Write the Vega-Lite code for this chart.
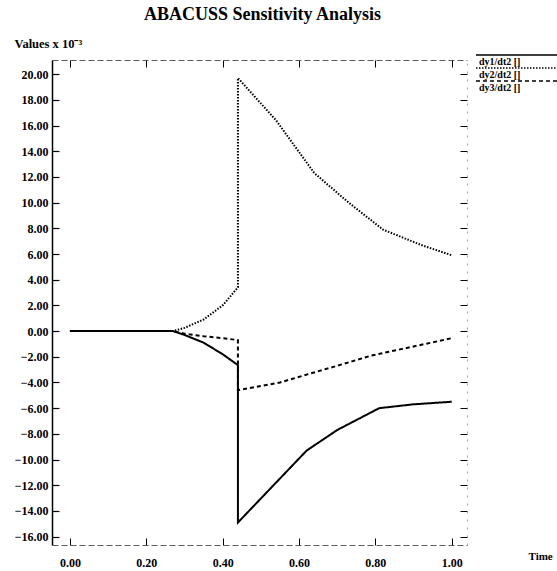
{
  "$schema": "https://vega.github.io/schema/vega-lite/v6.json",
  "width": 415,
  "height": 485,
  "autosize": {"type": "none"},
  "padding": {"left": 52, "top": 60, "right": 90, "bottom": 26},
  "background": "white",
  "title": {"text": "ABACUSS Sensitivity Analysis", "font": "Liberation Serif", "fontSize": 18, "fontWeight": "bold", "color": "black", "anchor": "middle", "frame": "group", "offset": 13, "dx": 3},
  "config": {"view": {"stroke": null}, "font": "Liberation Serif"},
  "data": {"values": [
    {"s": "dy1/dt2 []", "i": 1, "t": 0.0, "v": 0},
    {"s": "dy1/dt2 []", "i": 2, "t": 0.27, "v": 0},
    {"s": "dy1/dt2 []", "i": 3, "t": 0.3, "v": -0.3},
    {"s": "dy1/dt2 []", "i": 4, "t": 0.35, "v": -0.9},
    {"s": "dy1/dt2 []", "i": 5, "t": 0.4, "v": -1.8},
    {"s": "dy1/dt2 []", "i": 6, "t": 0.44, "v": -2.65},
    {"s": "dy1/dt2 []", "i": 7, "t": 0.44, "v": -14.9},
    {"s": "dy1/dt2 []", "i": 8, "t": 0.53, "v": -12.1},
    {"s": "dy1/dt2 []", "i": 9, "t": 0.62, "v": -9.3},
    {"s": "dy1/dt2 []", "i": 10, "t": 0.7, "v": -7.7},
    {"s": "dy1/dt2 []", "i": 11, "t": 0.81, "v": -6.0},
    {"s": "dy1/dt2 []", "i": 12, "t": 0.9, "v": -5.7},
    {"s": "dy1/dt2 []", "i": 13, "t": 1.0, "v": -5.5},
    {"s": "dy2/dt2 []", "i": 1, "t": 0.0, "v": 0},
    {"s": "dy2/dt2 []", "i": 2, "t": 0.27, "v": 0},
    {"s": "dy2/dt2 []", "i": 3, "t": 0.3, "v": 0.25},
    {"s": "dy2/dt2 []", "i": 4, "t": 0.35, "v": 0.9},
    {"s": "dy2/dt2 []", "i": 5, "t": 0.4, "v": 2.0},
    {"s": "dy2/dt2 []", "i": 6, "t": 0.44, "v": 3.4},
    {"s": "dy2/dt2 []", "i": 7, "t": 0.44, "v": 19.7},
    {"s": "dy2/dt2 []", "i": 8, "t": 0.54, "v": 16.4},
    {"s": "dy2/dt2 []", "i": 9, "t": 0.64, "v": 12.3},
    {"s": "dy2/dt2 []", "i": 10, "t": 0.73, "v": 10.0},
    {"s": "dy2/dt2 []", "i": 11, "t": 0.82, "v": 7.9},
    {"s": "dy2/dt2 []", "i": 12, "t": 0.92, "v": 6.7},
    {"s": "dy2/dt2 []", "i": 13, "t": 1.0, "v": 5.9},
    {"s": "dy3/dt2 []", "i": 1, "t": 0.0, "v": 0},
    {"s": "dy3/dt2 []", "i": 2, "t": 0.27, "v": 0},
    {"s": "dy3/dt2 []", "i": 3, "t": 0.3, "v": -0.2},
    {"s": "dy3/dt2 []", "i": 4, "t": 0.35, "v": -0.4},
    {"s": "dy3/dt2 []", "i": 5, "t": 0.4, "v": -0.55},
    {"s": "dy3/dt2 []", "i": 6, "t": 0.44, "v": -0.7},
    {"s": "dy3/dt2 []", "i": 7, "t": 0.44, "v": -4.6},
    {"s": "dy3/dt2 []", "i": 8, "t": 0.55, "v": -4.0},
    {"s": "dy3/dt2 []", "i": 9, "t": 0.63, "v": -3.3},
    {"s": "dy3/dt2 []", "i": 10, "t": 0.7, "v": -2.7},
    {"s": "dy3/dt2 []", "i": 11, "t": 0.79, "v": -1.9},
    {"s": "dy3/dt2 []", "i": 12, "t": 0.9, "v": -1.2},
    {"s": "dy3/dt2 []", "i": 13, "t": 1.0, "v": -0.55}
  ]},
  "layer": [
    {
      "mark": {"type": "line", "color": "black", "strokeWidth": 2},
      "encoding": {
        "x": {"field": "t", "type": "quantitative",
          "scale": {"domain": [-0.047, 1.04], "nice": false, "zero": false},
          "axis": {"orient": "bottom", "values": [0, 0.2, 0.4, 0.6, 0.8, 1.0], "format": ".2f",
            "labelFont": "Liberation Serif", "labelFontWeight": "bold", "labelFontSize": 12, "labelColor": "black",
            "tickSize": -7, "tickColor": "black", "tickWidth": 1, "labelPadding": 19,
            "domainColor": "#333", "domainDash": [6, 3], "domainWidth": 0.8, "grid": false,
            "title": "Time", "titleX": 476, "titleY": 11, "titleAlign": "left", "titleBaseline": "middle", "titleAnchor": null,
            "titleFont": "Liberation Serif", "titleFontSize": 11, "titleFontWeight": "bold", "titleColor": "black"}},
        "y": {"field": "v", "type": "quantitative",
          "scale": {"domain": [-16.65, 21.1], "nice": false, "zero": false},
          "axis": {"orient": "left", "values": [-16, -14, -12, -10, -8, -6, -4, -2, 0, 2, 4, 6, 8, 10, 12, 14, 16, 18, 20], "format": ".2f",
            "labelFont": "Liberation Serif", "labelFontWeight": "bold", "labelFontSize": 12, "labelColor": "black",
            "tickSize": -7, "tickColor": "black", "tickWidth": 1.2, "labelPadding": 11,
            "domainColor": "black", "domainWidth": 1.5, "grid": false,
            "title": "Values x 10⁻³", "titleAngle": 0, "titleX": -38, "titleY": -17, "titleAlign": "left", "titleBaseline": "middle",
            "titleFont": "Liberation Serif", "titleFontSize": 12.5, "titleFontWeight": "bold", "titleColor": "black"}},
        "strokeDash": {"field": "s", "type": "nominal",
          "scale": {"domain": ["dy1/dt2 []", "dy2/dt2 []", "dy3/dt2 []"], "range": [[1, 0], [1.5, 1.5], [4, 3]]},
          "legend": {"orient": "none", "legendX": 416, "legendY": -3, "title": null,
            "symbolType": "M3,-7L86,-7", "symbolSize": 4, "symbolStrokeWidth": 1.5, "symbolStrokeColor": "black", "symbolFillColor": "transparent",
            "labelFont": "Liberation Serif", "labelFontWeight": "bold", "labelFontSize": 10, "labelColor": "black",
            "rowPadding": -2, "labelOffset": 1, "padding": 0}},
        "order": {"field": "i", "type": "quantitative"}
      }
    },
    {
      "mark": {"type": "line", "opacity": 0},
      "encoding": {
        "x": {"field": "t", "type": "quantitative",
          "axis": {"orient": "top", "values": [0, 0.2, 0.4, 0.6, 0.8, 1.0], "labels": false, "title": null,
            "tickSize": -7, "tickColor": "black", "domainColor": "#333", "domainDash": [6, 3], "domainWidth": 0.8, "grid": false}},
        "y": {"field": "v", "type": "quantitative",
          "axis": {"orient": "right", "values": [-16, -14, -12, -10, -8, -6, -4, -2, 0, 2, 4, 6, 8, 10, 12, 14, 16, 18, 20], "labels": false, "title": null,
            "tickSize": -7, "tickColor": "black", "domainColor": "#666", "domainDash": [2, 6], "domainWidth": 0.6, "grid": false}},
        "detail": {"field": "s", "type": "nominal"},
        "order": {"field": "i", "type": "quantitative"}
      }
    }
  ],
  "resolve": {"axis": {"x": "independent", "y": "independent"}}
}
